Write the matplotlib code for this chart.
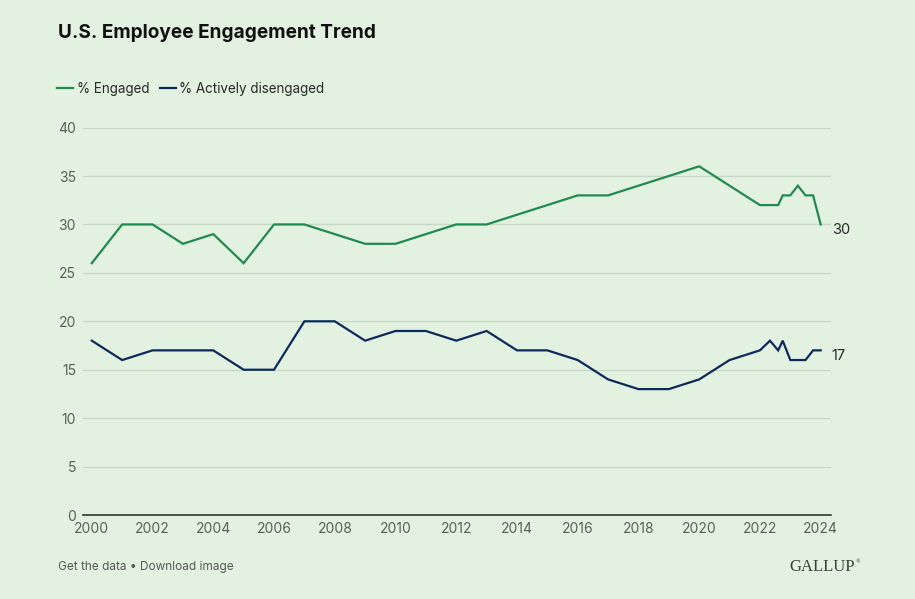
import matplotlib
matplotlib.use("Agg")
import matplotlib.pyplot as plt

# === DATA ===
years = [2000, 2001, 2002, 2003, 2004, 2005, 2006, 2007, 2008, 2009,
         2010, 2011, 2012, 2013, 2014, 2015, 2016, 2017, 2018, 2019,
         2020, 2021, 2022, 2022.33, 2022.6, 2022.75, 2023, 2023.25,
         2023.5, 2023.75, 2024]
engaged = [26, 30, 30, 28, 29, 26, 30, 30, 29, 28,
           28, 29, 30, 30, 31, 32, 33, 33, 34, 35,
           36, 34, 32, 32, 32, 33, 33, 34,
           33, 33, 30]
disengaged = [18, 16, 17, 17, 17, 15, 15, 20, 20, 18,
              19, 19, 18, 19, 17, 17, 16, 14, 13, 13,
              14, 16, 17, 18, 17, 18, 16, 16,
              16, 17, 17]
x_ticks = list(range(2000, 2025, 2))
y_ticks = list(range(0, 45, 5))

# === STYLE ===
BG = "#e3f1e0"
GREEN = "#218a4f"
NAVY = "#0d2a5c"
GRID = "#c8d8c5"
TICK = "#5a5f5a"
plt.rcParams['font.family'] = ['Inter', 'DejaVu Sans']

fig = plt.figure(figsize=(9.15, 5.99), dpi=100, facecolor=BG)
ax = fig.add_axes([0.0907, 0.1402, 0.8175, 0.6468], facecolor=BG)

ax.plot(years, engaged, color=GREEN, lw=1.6, solid_joinstyle='miter', label='% Engaged')
ax.plot(years, disengaged, color=NAVY, lw=1.6, solid_joinstyle='miter', label='% Actively disengaged')

ax.set_xlim(1999.71, 2024.34)
ax.set_ylim(0, 40)
ax.set_xticks(x_ticks)
ax.set_yticks(y_ticks)
ax.tick_params(axis='both', length=0, labelsize=10, colors=TICK)
ax.tick_params(axis='x', pad=5)
ax.tick_params(axis='y', pad=5)

ax.grid(True, axis='y', color=GRID, lw=0.9)
ax.set_axisbelow(True)
for s in ['top', 'right', 'left']:
    ax.spines[s].set_visible(False)
ax.spines['bottom'].set_color('#2b3a2b')
ax.spines['bottom'].set_linewidth(1.2)

# end labels
ax.annotate(f"{engaged[-1]}", (years[-1], engaged[-1]), xytext=(8, -4),
            textcoords='offset points', va='center', ha='left', fontsize=10.5, color='#2a2a2a')
ax.annotate(f"{disengaged[-1]}", (years[-1], disengaged[-1]), xytext=(8, -4),
            textcoords='offset points', va='center', ha='left', fontsize=10.5, color='#2a2a2a')

# title
fig.text(58 / 915, 1 - 33 / 599, "U.S. Employee Engagement Trend", fontsize=13.7,
         fontweight='bold', color='#111111', va='center', ha='left')

# legend
leg = fig.legend(loc='center left', bbox_to_anchor=(57 / 915, 1 - 89 / 599), ncol=2, frameon=False,
                 fontsize=9.7, handlelength=1.2, handletextpad=0.25, columnspacing=0.8,
                 borderaxespad=0, borderpad=0)
for t in leg.get_texts():
    t.set_color('#2a2a2a')

# footer
fig.text(58 / 915, 1 - 567 / 599, "Get the data \u2022 Download image", fontsize=8.5,
         color='#555a55', va='center', ha='left')
fig.text(855 / 915, 1 - 567 / 599, "GALLUP", fontsize=12, family='Liberation Serif',
         color='#3a3f3a', va='center', ha='right')
fig.text(855.5 / 915, 1 - 562 / 599, "\u00ae", fontsize=3.5, family='DejaVu Sans',
         color='#3a3f3a', va='center', ha='left')

fig.savefig("out.png", dpi=100, facecolor=BG)
